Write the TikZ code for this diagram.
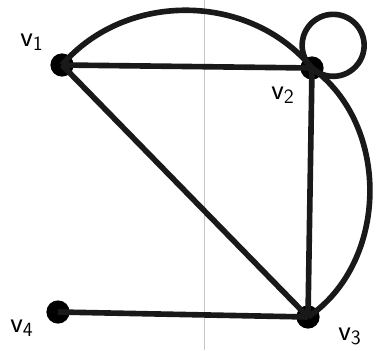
\documentclass[tikz,border=0pt]{standalone}
\usepackage{amsmath,amssymb}
\usepackage{tikz}
\usetikzlibrary{positioning,calc}

\begin{document}
\begin{tikzpicture}[
  x=0.025cm,y=0.025cm,
  vertex/.style={circle,fill=black,draw=none,inner sep=0pt,minimum size=0.58cm},
  vlabel/.style={inner sep=0pt,font=\fontsize{21}{23}\selectfont},
  edge/.style={line width=4pt,draw=black!90}
]
\useasboundingbox (0,0) rectangle (380,350);
\draw[gray!45,line width=0.6pt] (204,0) -- (204,350);

\node[vertex] (v1) at (62,285) {};
\node[vertex] (v2) at (312,282) {};
\node[vertex] (v3) at (308,33) {};
\node[vertex] (v4) at (58,38) {};

\node[vlabel] (l1) at (32,308) {$\mathsf{v_1}$};
\node[vlabel] (l2) at (283,255) {$\mathsf{v_2}$};
\node[vlabel] (l3) at (350,14) {$\mathsf{v_3}$};
\node[vlabel] (l4) at (22,22) {$\mathsf{v_4}$};

\draw[edge] (v1.center) to[bend left=50] (v2.center);
\draw[edge] (v2.center) to[bend left=55] (v3.center);
\draw[edge] (v1.center) -- (v2.center);
\draw[edge] (v1.center) -- (v3.center);
\draw[edge] (v2.center) -- (v3.center);
\draw[edge] (v4.center) -- (v3.center);
\draw[edge] (v2.center) arc[start angle=227,end angle=-133,radius=31];
\end{tikzpicture}
\end{document}
